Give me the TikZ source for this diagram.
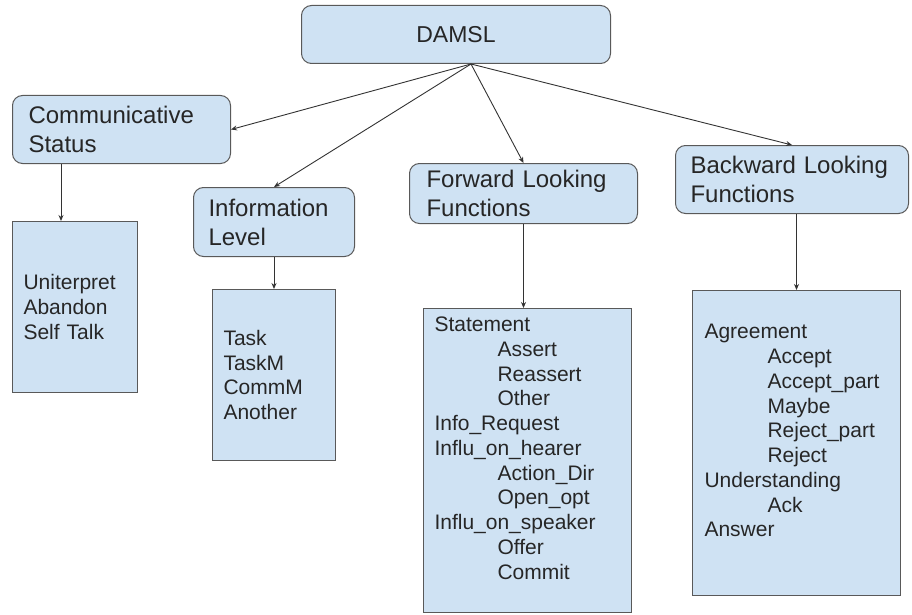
\documentclass[tikz,border=0pt]{standalone}
\usepackage{fontspec}
\setmainfont{Liberation Sans}
\usetikzlibrary{arrows.meta}

\definecolor{boxblue}{HTML}{CFE2F3}
\definecolor{linegray}{HTML}{595959}
\definecolor{textgray}{HTML}{262626}
\definecolor{arrowgray}{HTML}{333333}

\newcommand{\headfont}{\fontsize{24}{29}\selectfont}
\newcommand{\damfont}{\fontsize{23}{27}\selectfont}
\newcommand{\listfont}{\fontsize{21}{24.75}\selectfont}
\newcommand{\indnt}{\hspace*{63pt}}

\tikzset{
  head/.style={draw=linegray, fill=boxblue, rounded corners=10pt, line width=1pt,
    anchor=north west, inner ysep=0pt, align=left, font=\headfont, text=textgray},
  list/.style={draw=linegray, fill=boxblue, line width=1pt,
    anchor=north west, inner ysep=0pt, align=left, font=\listfont, text=textgray},
  arr/.style={->, >={Stealth[length=6pt,width=5pt]}, line width=0.9pt, draw=arrowgray}
}

\begin{document}
\begin{tikzpicture}[x=1pt, y=-1pt]
    \useasboundingbox (0,0) rectangle (912,615);
    % top
    \node[head, align=center, font=\damfont, minimum width=309pt, minimum height=58pt] (dam) at (301,5) {DAMSL};
    % headings
    \node[head, text width=186pt, inner xsep=16pt, minimum width=218pt, minimum height=68pt] (comm) at (12,95) {Communicative\\Status};
    \node[head, text width=131pt, inner xsep=15pt, minimum width=161pt, minimum height=69pt] (info) at (193,187) {Information\\Level};
    \node[head, text width=194pt, inner xsep=17pt, minimum width=228pt, minimum height=60pt] (fwd) at (409,163) {Forward Looking\\Functions};
    \node[head, text width=203pt, inner xsep=15pt, minimum width=233pt, minimum height=68pt] (bwd) at (675,145) {Backward Looking\\Functions};
    % lists
    \node[list, text width=103pt, inner xsep=11pt, minimum width=125pt, minimum height=171pt] (cslist) at (12,221)
        {Uniterpret\\Abandon\\Self Talk};
    \node[list, text width=101pt, inner xsep=11pt, minimum width=123pt, minimum height=171pt] (ilist) at (212,289)
        {Task\\TaskM\\CommM\\Another};
    \node[list, text width=186pt, inner xsep=11pt, minimum width=208pt, minimum height=304pt] (flist) at (423,308)
        {Statement\\\indnt Assert\\\indnt Reassert\\\indnt Other\\Info\_Request\\Influ\_on\_hearer\\
         \indnt Action\_Dir\\\indnt Open\_opt\\Influ\_on\_speaker\\\indnt Offer\\\indnt Commit\\\mbox{}};
    \node[list, text width=184pt, inner xsep=12pt, minimum width=208pt, minimum height=305pt] (blist) at (692,290)
        {Agreement\\\indnt Accept\\\indnt Accept\_part\\\indnt Maybe\\\indnt Reject\_part\\\indnt Reject\\
         Understanding\\\indnt Ack\\Answer\\\mbox{}};
    % arrows from the top
    \coordinate (hub) at ([xshift=15pt]dam.south);
    \draw[arr] (hub) -- (comm.east);
    \draw[arr] (hub) -- (info.north);
    \draw[arr] (hub) -- (fwd.north);
    \draw[arr] (hub) -- (bwd.north);
    % arrows down
    \coordinate (cstop) at ([xshift=-14pt]cslist.north);
    \draw[arr] (cstop |- comm.south) -- (cstop);
    \draw[arr] (info.south) -- (ilist.north);
    \draw[arr] (fwd.south) -- (fwd.south |- flist.north);
    \draw[arr] (blist.north |- bwd.south) -- (blist.north);
\end{tikzpicture}
\end{document}
